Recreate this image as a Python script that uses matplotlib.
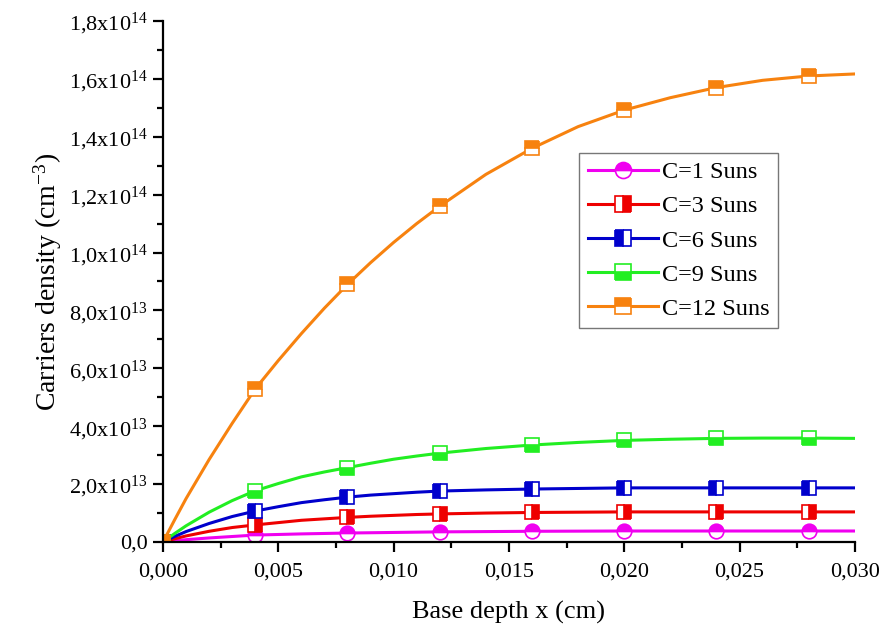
import matplotlib.pyplot as plt
from matplotlib.ticker import MultipleLocator, FuncFormatter

plt.rcParams['font.family'] = ['Liberation Serif', 'DejaVu Serif']
plt.rcParams['mathtext.fontset'] = 'custom'
plt.rcParams['mathtext.rm'] = 'Liberation Serif'
plt.rcParams['mathtext.it'] = 'Liberation Serif:italic'

# base depth (cm)
x = [0.0, 0.0005, 0.001, 0.002, 0.003, 0.004, 0.005, 0.006, 0.007, 0.008,
     0.009, 0.010, 0.011, 0.012, 0.014, 0.016, 0.018, 0.020, 0.022, 0.024,
     0.026, 0.028, 0.030]
# carriers density, units of 1e13 cm^-3
c1 = [0.0, 0.04, 0.08, 0.14, 0.19, 0.24, 0.26, 0.28, 0.295, 0.31,
      0.32, 0.33, 0.34, 0.35, 0.36, 0.37, 0.375, 0.38, 0.38, 0.38,
      0.38, 0.38, 0.38]
c3 = [0.0, 0.11, 0.21, 0.37, 0.50, 0.59, 0.67, 0.75, 0.80, 0.85,
      0.89, 0.92, 0.95, 0.97, 1.00, 1.02, 1.03, 1.04, 1.04, 1.04,
      1.04, 1.04, 1.04]
c6 = [0.0, 0.19, 0.36, 0.64, 0.88, 1.07, 1.22, 1.36, 1.46, 1.55,
      1.62, 1.67, 1.72, 1.76, 1.80, 1.83, 1.85, 1.87, 1.87, 1.87,
      1.87, 1.87, 1.87]
c9 = [0.0, 0.29, 0.56, 1.03, 1.43, 1.77, 2.02, 2.25, 2.42, 2.57,
      2.72, 2.86, 2.97, 3.07, 3.23, 3.35, 3.44, 3.51, 3.55, 3.58,
      3.59, 3.59, 3.58]
c12 = [0.0, 0.76, 1.50, 2.85, 4.10, 5.29, 6.27, 7.20, 8.08, 8.90,
       9.65, 10.35, 11.00, 11.60, 12.70, 13.60, 14.35, 14.92, 15.35, 15.70,
       15.95, 16.10, 16.17]
marker_x = [0.0, 0.004, 0.008, 0.012, 0.016, 0.020, 0.024, 0.028]

series = [
    ('C=1 Suns', c1, '#f000f0', 'o', 'top'),
    ('C=3 Suns', c3, '#ee0000', 's', 'right'),
    ('C=6 Suns', c6, '#0000cc', 's', 'left'),
    ('C=9 Suns', c9, '#22ee22', 's', 'bottom'),
    ('C=12 Suns', c12, '#f7820f', 's', 'top'),
]

fig = plt.figure(figsize=(8.84, 6.32), dpi=100)
ax = fig.add_axes([0.1844, 0.1424, 0.7826, 0.8244])

marks = [i for i, v in enumerate(x) if v in marker_x]
for lab, y, col, m, fs in series:
    ax.plot(x, [v * 1e13 for v in y], color=col, lw=2.2, marker=m, markevery=marks,
            ms=10.5, fillstyle=fs, markerfacecoloralt='white', mec=col, mew=1.2,
            label=lab)

ax.set_xlim(0, 0.030)
ax.set_ylim(0, 1.8e14)
ax.xaxis.set_major_locator(MultipleLocator(0.005))
ax.xaxis.set_minor_locator(MultipleLocator(0.0025))
ax.yaxis.set_major_locator(MultipleLocator(2e13))
ax.yaxis.set_minor_locator(MultipleLocator(1e13))
ax.xaxis.set_major_formatter(FuncFormatter(lambda v, p: ('%.3f' % v).replace('.', ',')))


def yfmt(v, p):
    if v == 0:
        return '0,0'
    e = 13 if v < 9.9e13 else 14
    m = ('%.1f' % (v / 10 ** e)).replace('.', ',')
    return m + r'x10$^{%d}$' % e


ax.yaxis.set_major_formatter(FuncFormatter(yfmt))
for s in ['top', 'right']:
    ax.spines[s].set_visible(False)
for s in ['left', 'bottom']:
    ax.spines[s].set_linewidth(1.6)
ax.tick_params(which='major', direction='out', length=7, width=1.6, labelsize=16)
ax.tick_params(which='minor', direction='out', length=4.5, width=1.6)
ax.tick_params(axis='x', pad=8)
ax.tick_params(axis='y', pad=4)

ax.set_xlabel('Base depth x (cm)', fontsize=19, labelpad=14)
ax.set_ylabel('Carriers density (cm$^{-3}$)', fontsize=20, labelpad=4)

leg = ax.legend(loc='upper right', bbox_to_anchor=(0.889, 0.747), borderaxespad=0,
                fontsize=17.5, handlelength=2.9, fancybox=False, edgecolor='#555555',
                labelspacing=0.5, handletextpad=0.15, borderpad=0.35, markerscale=1.1)
leg.get_frame().set_linewidth(1.0)

fig.savefig('out.png', dpi=100)
